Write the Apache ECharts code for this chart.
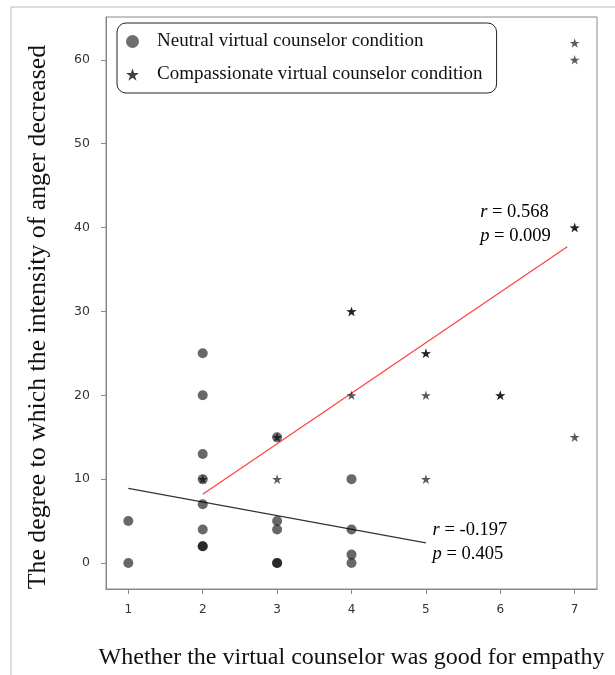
<!DOCTYPE html>
<html>
<head>
<meta charset="utf-8">
<script src="https://cdn.jsdelivr.net/npm/echarts@6/dist/echarts.min.js"></script>
<style>
  html, body { margin: 0; padding: 0; background: #fff; }
  #chart { width: 615px; height: 675px; }
</style>
</head>
<body>
<div id="chart"></div>
<script>
var xTicks = [1, 2, 3, 4, 5, 6, 7];
var yTicks = [0, 10, 20, 30, 40, 50, 60];

// neutral condition (circles), duplicates kept where points overlap darker
var neutralX = [1, 1, 2, 2, 2, 2, 2, 2, 2, 2, 3, 3, 3, 3, 3, 4, 4, 4, 4];
var neutralY = [5, 0, 25, 20, 13, 10, 7, 4, 2, 2, 15, 5, 4, 0, 0, 10, 4, 1, 0];

// compassionate condition (stars)
var compX = [2, 3, 3, 4, 4, 4, 5, 5, 5, 5, 6, 6, 7, 7, 7, 7, 7];
var compY = [10, 15, 10, 30, 30, 20, 25, 25, 20, 10, 20, 20, 62, 60, 40, 40, 15];

// fitted regression lines
var neutralFitX = [1, 5];
var neutralFitY = [8.9, 2.4];
var compFitX = [2, 6.9];
var compFitY = [8.2, 37.7];

// r / p annotations and where they sit (data coords)
var neutralStats = ['-0.197', '0.405'];
var neutralStatsAt = [5.09, 2.5];
var compStats = ['0.568', '0.009'];
var compStatsAt = [5.73, 40.4];

var starPath = 'path://M50,0 L61.23,34.55 L97.55,34.55 L68.16,55.9 L79.39,90.45 L50,69.1 L20.61,90.45 L31.84,55.9 L2.45,34.55 L38.77,34.55 Z';

function zip(a, b) {
    return a.map(function (v, i) { return [v, b[i]]; });
}

var myChart = echarts.init(document.getElementById('chart'));
var serif = '"Liberation Serif", "Times New Roman", serif';
var sans = '"DejaVu Sans", sans-serif';

option = {
    animation: false,
    backgroundColor: '#fff',
    grid: {
        left: 106,
        right: 18,
        top: 17,
        bottom: 86,
        show: true,
        borderColor: '#888',
        borderWidth: 1
    },
    legend: {
        orient: 'vertical',
        left: 117,
        top: 23,
        padding: [9, 14, 9, 9],
        itemGap: 14,
        itemWidth: 13,
        itemHeight: 13,
        borderColor: '#222',
        borderWidth: 1,
        borderRadius: 9,
        textStyle: { fontFamily: serif, fontSize: 19, color: '#111', padding: [0, 0, 0, 13] },
        data: [
            { name: 'Neutral virtual counselor condition', icon: 'circle', itemStyle: { color: '#4a4a4a' } },
            { name: 'Compassionate virtual counselor condition', icon: starPath, itemStyle: { color: '#111' } }
        ]
    },
    xAxis: {
        type: 'value',
        min: 0.7,
        max: 7.3,
        interval: 1,
        name: 'Whether the virtual counselor was good for empathy',
        nameLocation: 'middle',
        nameGap: 57,
        nameTextStyle: { fontFamily: serif, fontSize: 24, color: '#111' },
        axisLine: { show: true, onZero: false, lineStyle: { color: '#888' } },
        axisTick: { show: true, inside: false, length: 5, lineStyle: { color: '#888' }, customValues: xTicks },
        axisLabel: { fontFamily: sans, fontSize: 12, color: '#333', margin: 15, customValues: xTicks },
        splitLine: { show: false }
    },
    yAxis: {
        type: 'value',
        min: -3.1,
        max: 65.1,
        name: 'The degree to which the intensity of anger decreased',
        nameLocation: 'middle',
        nameGap: 55,
        nameTextStyle: { fontFamily: serif, fontSize: 25.8, color: '#111', padding: [0, 28, 0, 0] },
        axisLine: { show: true, onZero: false, lineStyle: { color: '#888' } },
        axisTick: { show: true, inside: false, length: 5, lineStyle: { color: '#888' }, customValues: yTicks },
        axisLabel: { fontFamily: sans, fontSize: 12.5, color: '#333', margin: 16, customValues: yTicks },
        splitLine: { show: false }
    },
    series: [
        {
            name: 'Neutral virtual counselor condition',
            type: 'scatter',
            symbol: 'circle',
            symbolSize: 10,
            itemStyle: { color: 'rgba(0,0,0,0.74)' },
            data: zip(neutralX, neutralY),
            z: 3
        },
        {
            name: 'Compassionate virtual counselor condition',
            type: 'scatter',
            symbol: starPath,
            symbolSize: 10,
            symbolKeepAspect: true,
            itemStyle: { color: 'rgba(0,0,0,0.8)' },
            data: zip(compX, compY),
            z: 4
        },
        {
            type: 'line',
            data: zip(neutralFitX, neutralFitY),
            symbol: 'none',
            lineStyle: { color: '#333', width: 1.2 },
            z: 2
        },
        {
            type: 'line',
            data: zip(compFitX, compFitY),
            symbol: 'none',
            lineStyle: { color: '#ff4040', width: 1.2 },
            z: 2
        }
    ]
};
myChart.setOption(option);

function statText(s, at) {
    var p = myChart.convertToPixel({ gridIndex: 0 }, at);
    return {
        type: 'text',
        x: p[0],
        y: p[1],
        style: {
            text: '{i|r} = ' + s[0] + '\n{i|p} = ' + s[1],
            font: '18.5px ' + serif,
            fill: '#000',
            lineHeight: 24,
            align: 'left',
            verticalAlign: 'middle',
            rich: { i: { fontStyle: 'italic', fontFamily: serif, fontSize: 18.5, fill: '#000' } }
        }
    };
}

myChart.setOption({
    graphic: [
        { type: 'line', shape: { x1: 11, y1: 7, x2: 615, y2: 7 }, style: { stroke: '#bbb', lineWidth: 1 } },
        { type: 'line', shape: { x1: 11, y1: 7, x2: 11, y2: 675 }, style: { stroke: '#bbb', lineWidth: 1 } },
        statText(compStats, compStatsAt),
        statText(neutralStats, neutralStatsAt)
    ]
});
</script>
</body>
</html>
